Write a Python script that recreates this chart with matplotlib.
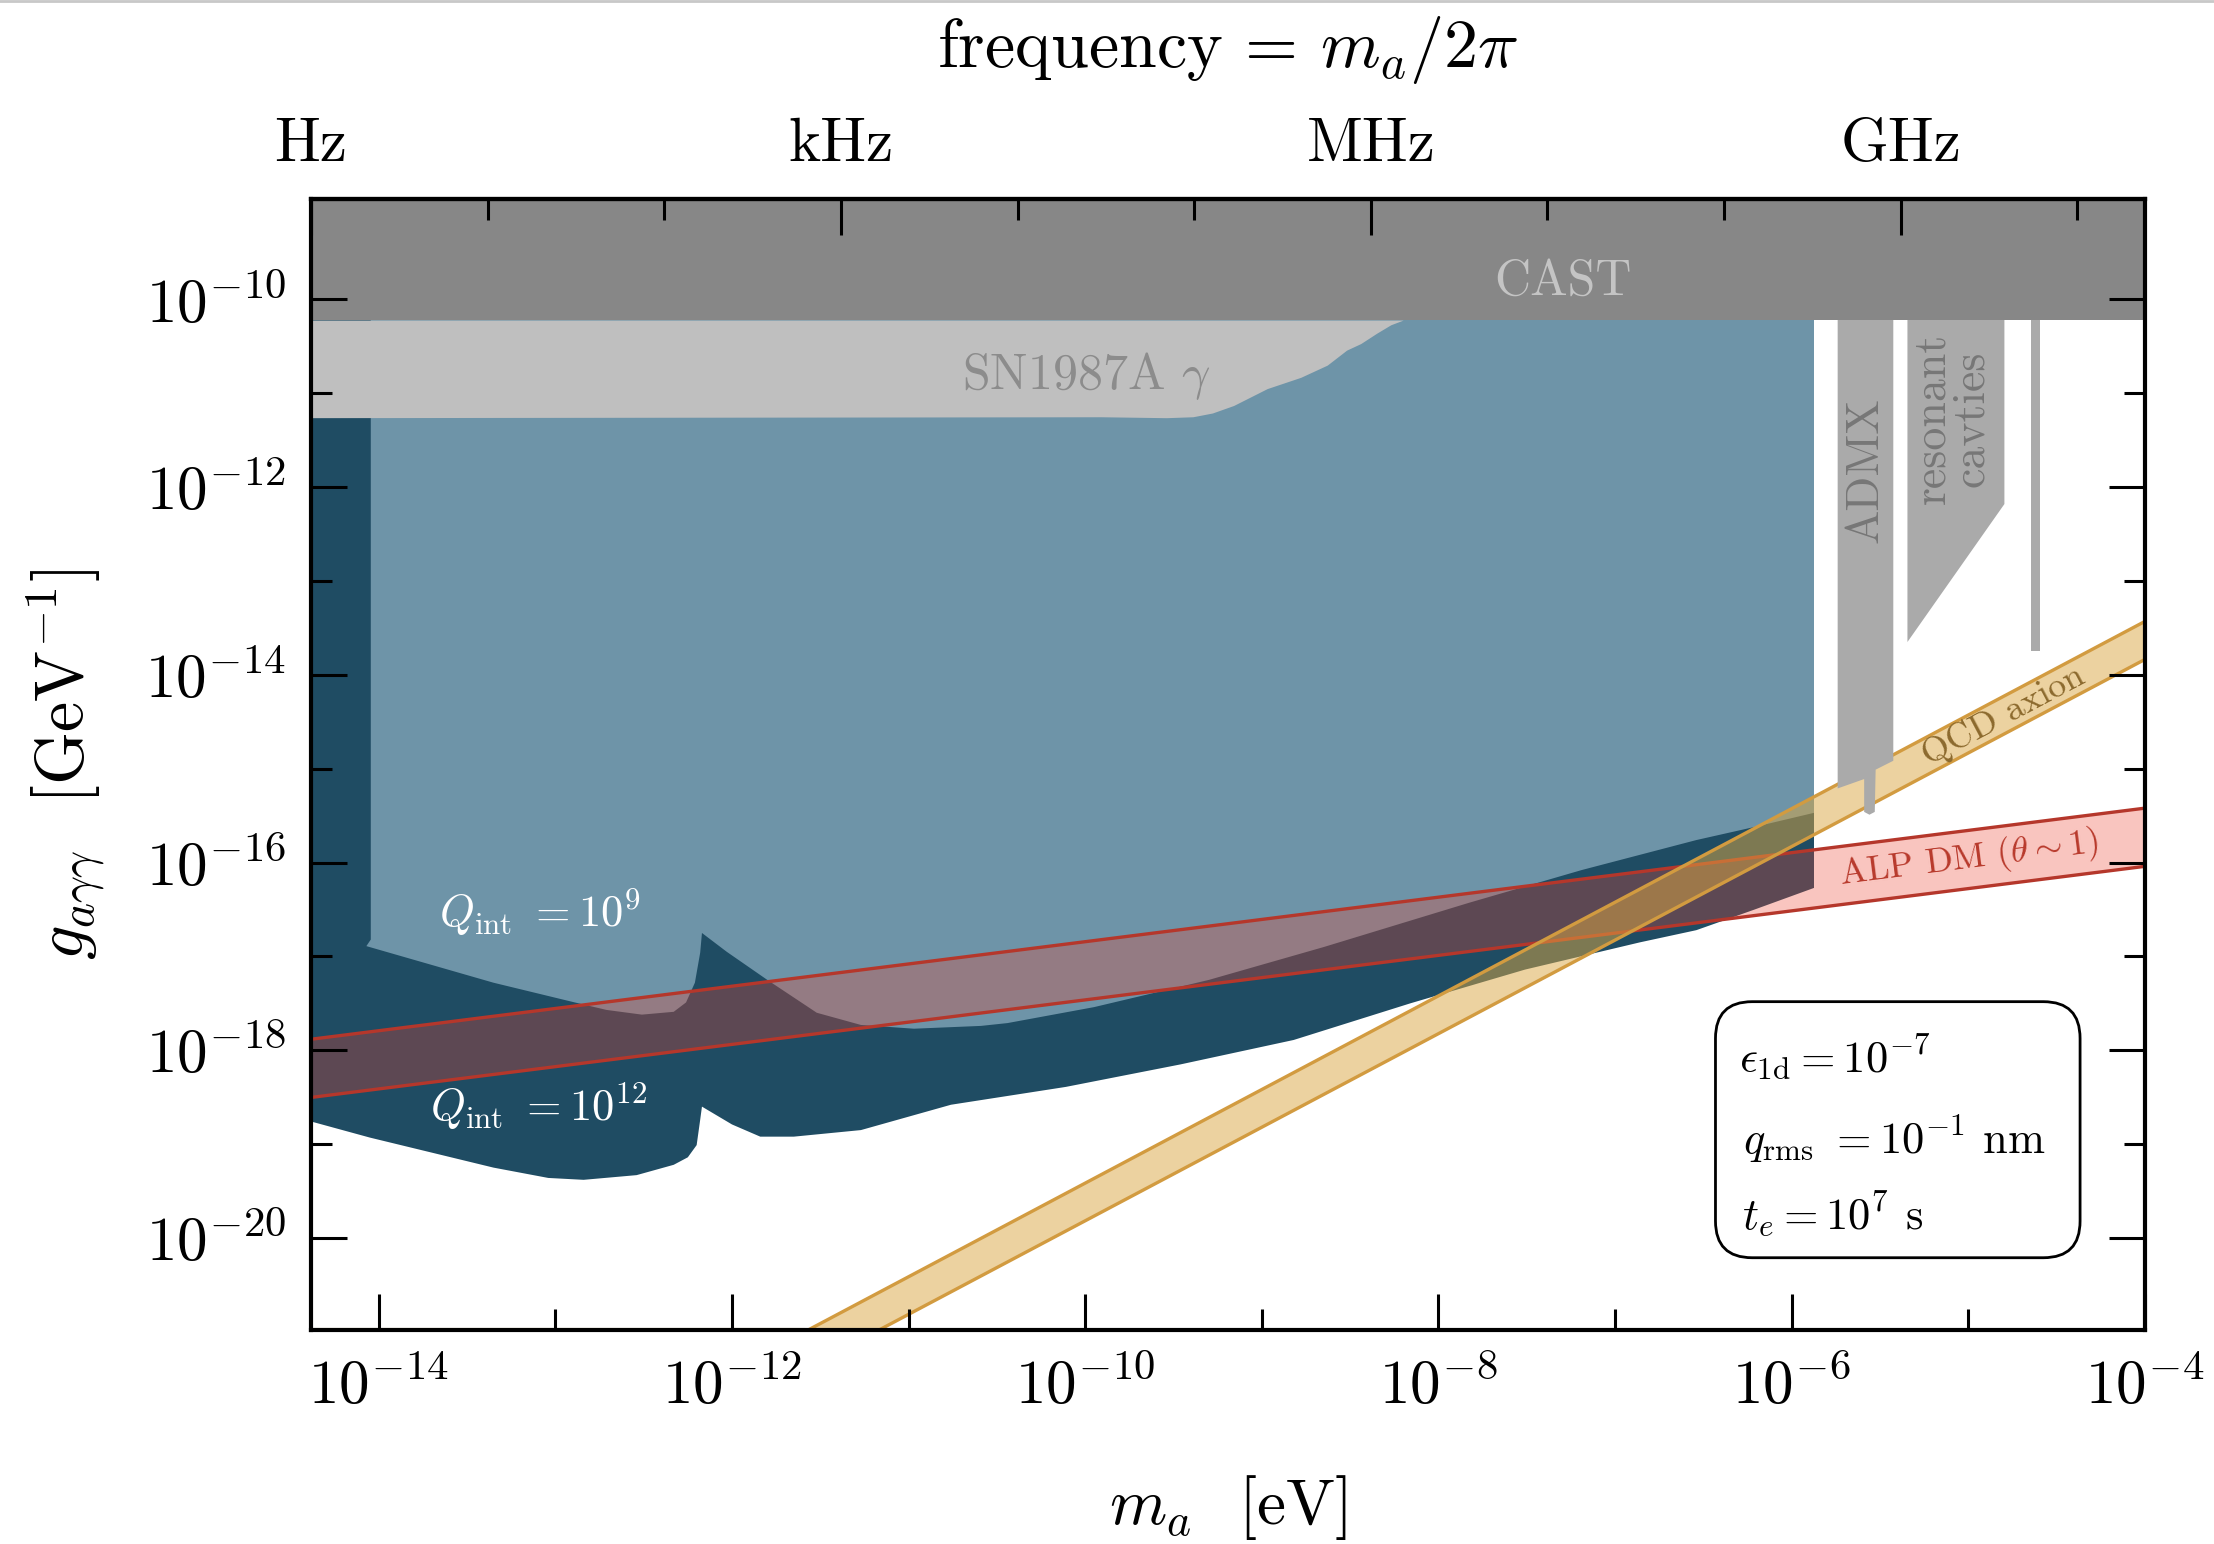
import numpy as np
import matplotlib
matplotlib.use('Agg')
import matplotlib.pyplot as plt
from matplotlib.patches import FancyBboxPatch
from matplotlib.lines import Line2D
from matplotlib.ticker import FixedLocator, NullFormatter

plt.rcParams['font.family'] = 'serif'
plt.rcParams['font.serif'] = ['cmr10']
plt.rcParams['mathtext.fontset'] = 'cm'
plt.rcParams['axes.formatter.use_mathtext'] = True

EV_PER_HZ = 4.135667e-15  # 2*pi*hbar

# plot range
m_lim = [EV_PER_HZ, 1e-4]
logg_lim = [-20.98, -8.93]

# CAST limit (log10 g)
cast_logg = -10.22

# SN1987A gamma limit
sn_logm = [-14.5, -9.91, -9.54, -9.39, -9.28, -9.16, -8.97, -8.78, -8.63, -8.52, -8.44, -8.35, -8.27, -8.20]
sn_logg = [-11.26, -11.25, -11.26, -11.25, -11.21, -11.13, -10.95, -10.83, -10.70, -10.54, -10.47, -10.36, -10.27, -10.22]

# projected reach, Q_int = 1e12 (lower edge)
q12_logm = [-14.50, -14.38, -14.05, -13.35, -13.04, -12.84, -12.54, -12.33, -12.25, -12.20, -12.18, -12.17,
            -12.00, -11.84, -11.65, -11.27, -10.76, -10.11, -9.46, -8.82, -8.16, -7.51, -6.86, -6.54, -6.21, -5.874]
q12_logg = [-18.70, -18.76, -18.93, -19.25, -19.36, -19.38, -19.33, -19.22, -19.14, -19.01, -18.74, -18.60,
            -18.79, -18.92, -18.92, -18.85, -18.58, -18.39, -18.15, -17.89, -17.50, -17.14, -16.85, -16.72, -16.50, -16.27]

# projected reach, Q_int = 1e9 (lower edge)
q9_logm = [-14.045, -14.045, -14.07, -13.35, -12.89, -12.71, -12.51, -12.33, -12.26, -12.21, -12.18, -12.17,
           -12.03, -11.80, -11.52, -11.27, -10.97, -10.59, -10.44, -9.95, -9.30, -8.65, -7.83, -7.19, -6.54, -6.21, -5.874]
q9_logg = [-9.0, -16.82, -16.89, -17.28, -17.49, -17.57, -17.62, -17.59, -17.49, -17.28, -16.96, -16.75,
           -16.95, -17.25, -17.60, -17.73, -17.77, -17.74, -17.71, -17.54, -17.25, -16.90, -16.43, -16.08, -15.76, -15.62, -15.47]

# haloscopes
admx_logm = [-5.74, -5.425, -5.425, -5.525, -5.53, -5.56, -5.59, -5.59, -5.74]
admx_logg = [-10.0, -10.0, -14.915, -15.01, -15.46, -15.49, -15.46, -15.11, -15.21]
cav_logm = [-5.345, -4.796, -4.796, -5.345]
cav_logg = [-10.0, -10.0, -12.18, -13.65]
cav2_logm = [-4.643, -4.597, -4.597, -4.643]
cav2_logg = [-10.0, -10.0, -13.75, -13.75]

# ALP dark matter band (theta ~ 1)
alp_logm = [-14.5, -4.0]
alp_lo = [-18.53, -16.04]
alp_hi = [-17.91, -15.42]

# QCD axion band
qcd_logm = [-12.0, -4.0]
qcd_lo = [-21.81, -13.835]
qcd_hi = [-21.41, -13.43]

W, H = 2214, 1544
fig = plt.figure(figsize=(W / 200, H / 200), dpi=200)
ax = fig.add_axes([311 / W, 1 - 1330 / H, (2145 - 311) / W, (1330 - 199) / H])
ax.set_xscale('log')
ax.set_yscale('log')
ax.set_xlim(m_lim)
ax.set_ylim(10 ** logg_lim[0], 10 ** logg_lim[1])

p = lambda a: 10 ** np.asarray(a, dtype=float)

dark_blue = '#1f4c63'
light_blue = '#6e94a8'

# Q_int = 1e12 region
xs = np.concatenate([[q12_logm[0]], q12_logm, [q12_logm[-1]]])
ys = np.concatenate([[-9.0], q12_logg, [-9.0]])
ax.fill(p(xs), p(ys), color=dark_blue, lw=0, zorder=1.0)
# Q_int = 1e9 region
xs = np.concatenate([q9_logm, [q9_logm[-1]]])
ys = np.concatenate([q9_logg, [-9.0]])
ax.fill(p(xs), p(ys), color=light_blue, lw=0, zorder=1.05)

# ALP DM band
ax.fill_between(p(alp_logm), p(alp_lo), p(alp_hi), color=(0.93, 0.26, 0.18), alpha=0.3, lw=0, zorder=1.1)
ax.plot(p(alp_logm), p(alp_lo), color='#b5372b', lw=1.2, zorder=1.15)
ax.plot(p(alp_logm), p(alp_hi), color='#b5372b', lw=1.2, zorder=1.15)

# QCD band
ax.fill_between(p(qcd_logm), p(qcd_lo), p(qcd_hi), color=(0.86, 0.65, 0.26), alpha=0.5, lw=0, zorder=1.2)
ax.plot(p(qcd_logm), p(qcd_lo), color='#d29b40', lw=1.2, zorder=1.25)
ax.plot(p(qcd_logm), p(qcd_hi), color='#d29b40', lw=1.2, zorder=1.25)
ax.plot([m_lim[0], 10 ** -11.6], [10 ** logg_lim[0]] * 2, color='#efd5a3', lw=1.5, zorder=1.2)

# existing limits
ax.fill(p(admx_logm), p(admx_logg), color='#aaaaaa', lw=0, zorder=1.3)
ax.fill(p(cav_logm), p(cav_logg), color='#aaaaaa', lw=0, zorder=1.3)
ax.fill(p(cav2_logm), p(cav2_logg), color='#aaaaaa', lw=0, zorder=1.3)
ax.fill_between(p(sn_logm), p(sn_logg), 10 ** cast_logg, color='#bfbfbf', lw=0, zorder=1.35)
ax.fill_between([1e-16, 1e-3], 10 ** cast_logg, 1e-7, color='#878787', lw=0, zorder=1.4)

# labels inside the plot
ax.text(10 ** -7.683, 10 ** -9.954, 'CAST', color='#c4c4c4', fontsize=18, ha='left', va='baseline')
ax.text(10 ** -10.695, 10 ** -10.958, r'SN1987A $\gamma$', color='#8c8c8c', fontsize=18, ha='left', va='baseline')
ax.text(10 ** -5.583, 10 ** -11.818, 'ADMX', color='#777777', fontsize=16.5, rotation=90, ha='center', va='center')
ax.text(10 ** -5.094, 10 ** -11.27, 'resonant\ncavties', color='#777777', fontsize=16.5, rotation=90,
        ha='center', va='center', multialignment='center', linespacing=0.9)
ax.text(10 ** -13.66, 10 ** -16.685, r'$Q_{\rm int}\ = 10^9$', color='white', fontsize=16, ha='left', va='baseline')
ax.text(10 ** -13.71, 10 ** -18.758, r'$Q_{\rm int}\ = 10^{12}$', color='white', fontsize=16, ha='left', va='baseline')


def band_angle(logm, logg):
    a = ax.transData.transform((10 ** logm[0], 10 ** logg[0]))
    b = ax.transData.transform((10 ** logm[1], 10 ** logg[1]))
    return np.degrees(np.arctan2(b[1] - a[1], b[0] - a[0]))


ax.text(10 ** -4.80, 10 ** -14.43, 'QCD axion', color='#8c6a2e', fontsize=13,
        rotation=band_angle(qcd_logm, qcd_hi), rotation_mode='anchor', ha='center', va='center')
ax.text(10 ** -4.997, 10 ** -15.963, r'ALP DM ($\theta\sim1$)', color='#b83a2c', fontsize=13,
        rotation=band_angle(alp_logm, alp_hi), rotation_mode='anchor', ha='center', va='center')

# parameter box
box = FancyBboxPatch((0.7658, 0.0639), 0.1988, 0.2264, boxstyle='round,pad=0,rounding_size=0.02',
                     mutation_aspect=1834 / 1131, transform=ax.transAxes, fc='white', ec='black', lw=1.0, zorder=2.0)
ax.add_patch(box)
ax.text(0.7787, 0.229, r'$\epsilon_{\rm 1d} = 10^{-7}$', transform=ax.transAxes, fontsize=16, va='baseline')
ax.text(0.781, 0.1556, r'$q_{\rm rms}\ = 10^{-1}$ nm', transform=ax.transAxes, fontsize=16, va='baseline')
ax.text(0.780, 0.0899, r'$t_e = 10^7$ s', transform=ax.transAxes, fontsize=16, va='baseline')

# ticks
ax.set_axisbelow(False)
ax.xaxis.set_major_locator(FixedLocator(10.0 ** np.arange(-14, -3, 2)))
ax.xaxis.set_minor_locator(FixedLocator(10.0 ** np.arange(-13, -4, 2)))
ax.xaxis.set_minor_formatter(NullFormatter())
ax.yaxis.set_major_locator(FixedLocator(10.0 ** np.arange(-20, -9, 2)))
ax.yaxis.set_minor_locator(FixedLocator(10.0 ** np.arange(-19, -10, 2)))
ax.yaxis.set_minor_formatter(NullFormatter())
ax.tick_params(which='both', direction='in', width=1.1, labelsize=22)
ax.tick_params(which='major', length=13)
ax.tick_params(which='minor', length=7.5)
ax.tick_params(axis='x', which='both', top=False, bottom=True, pad=10)
ax.tick_params(axis='y', which='both', left=True, right=True, pad=9)
for s in ax.spines.values():
    s.set_linewidth(1.5)

sec = ax.secondary_xaxis('top', functions=(lambda m: m / EV_PER_HZ, lambda f: f * EV_PER_HZ))
sec.set_zorder(10)
sec.set_xticks([1, 1e3, 1e6, 1e9], labels=['Hz', 'kHz', 'MHz', 'GHz'])
sec.xaxis.set_minor_locator(FixedLocator([10, 100, 1e4, 1e5, 1e7, 1e8, 1e10]))
sec.xaxis.set_minor_formatter(NullFormatter())
sec.tick_params(which='both', direction='in', width=1.1, labelsize=22)
sec.tick_params(which='major', length=13, pad=9.5)
sec.tick_params(which='minor', length=7.5)
sec.spines['top'].set_linewidth(1.5)

cx = (311 + 2145) / 2 / W
fig.text(cx, 1 - 50 / H, r'frequency = $m_a/2\pi$', ha='center', va='center', fontsize=24.5)
fig.text(cx, 1 - 1508 / H, r'$m_a$  [eV]', ha='center', va='center', fontsize=23.5)
fig.text(66 / W, 1 - 764.5 / H, r'$g_{a\gamma\gamma}$  [GeV$^{-1}$]', rotation=90, ha='center', va='center', fontsize=24.5)
fig.add_artist(Line2D([0, 1], [0.9995, 0.9995], color='#c8c8c8', lw=1.0))

fig.savefig('out.png', dpi=200)
